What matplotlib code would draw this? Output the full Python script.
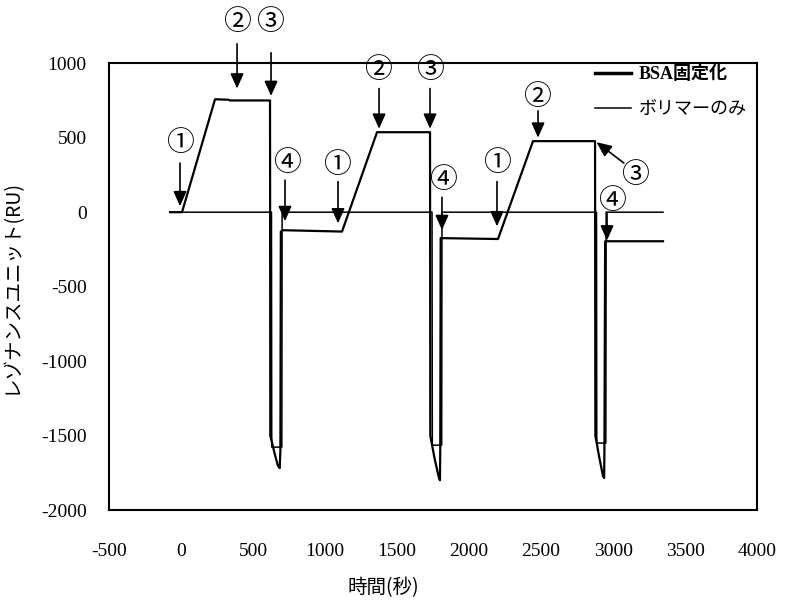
import matplotlib
matplotlib.use('Agg')
import matplotlib.pyplot as plt

# BSA固定化 の曲線 (時間[秒], RU)
bsa_time = [-76, 7, 236, 330, 340, 618,
            620, 650, 672, 685, 690, 693, 710, 1118, 1361, 1729,
            1731, 1760, 1790, 1798, 1800, 1803, 2201, 2444, 2875,
            2877, 2905, 2930, 2938, 2940, 2945, 3347]
bsa_ru = [0, 0, 758, 755, 750, 750,
          -1500, -1620, -1700, -1718, -1600, -130, -121, -130, 537, 537,
          -1500, -1650, -1780, -1799, -1600, -174, -180, 477, 477,
          -1500, -1650, -1770, -1785, -1600, -195, -195]

# ポリマーのみ の曲線
poly_time = [-76, 628, 630, 700, 702, 1743, 1745, 1810, 1812, 2885, 2887, 2950, 2952, 3347]
poly_ru = [0, 0, -1577, -1577, 0, 0, -1564, -1564, 0, 0, -1550, -1550, 0, 0]

x_ticks = [-500, 0, 500, 1000, 1500, 2000, 2500, 3000, 3500, 4000]
y_ticks = [1000, 500, 0, -500, -1000, -1500, -2000]

# 丸数字の注釈: (文字, 文字位置, 矢印の始点, 矢印の先)
marks = [
    ('①', (-7, 463), (-7, 330), (-7, 40)),
    ('②', (389, 1275), (389, 1130), (389, 830)),
    ('③', (618, 1275), (625, 1070), (625, 780)),
    ('④', (736, 329), (722, 215), (722, -60)),
    ('①', (1083, 316), (1090, 205), (1090, -75)),
    ('②', (1368, 953), (1375, 830), (1375, 560)),
    ('③', (1729, 953), (1729, 830), (1729, 560)),
    ('④', (1819, 216), (1812, 100), (1812, -120)),
    ('①', (2194, 329), (2194, 205), (2194, -95)),
    ('②', (2472, 772), (2479, 680), (2479, 500)),
    ('④', (2990, 75), (2958, 0), (2958, -190)),
]

plt.rcParams['font.family'] = ['Liberation Serif', 'Noto Sans CJK JP']
plt.rcParams['axes.unicode_minus'] = False

fig = plt.figure(figsize=(7.86, 6.08), dpi=100)
ax = fig.add_axes([0.1387, 0.161, 0.8245, 0.735])

ax.plot(bsa_time, bsa_ru, color='black', lw=1.6, label='BSA固定化')
ax.plot(poly_time, poly_ru, color='black', lw=1.1, label='ボリマーのみ')

ax.set_xlim(-500, 4000)
ax.set_ylim(-2000, 1000)
ax.set_xticks(x_ticks)
ax.set_yticks(y_ticks)
ax.tick_params(length=0, labelsize=14)
ax.tick_params(axis='x', pad=24)
ax.tick_params(axis='y', pad=16)
for s in ax.spines.values():
    s.set_linewidth(1.5)

jp = ['Noto Sans CJK JP', 'DejaVu Sans']
ax.set_ylabel('レゾナンスユニット(RU)', family=jp, fontsize=14)
ax.yaxis.set_label_coords(-0.135, 0.5)
ax.set_xlabel('時間(秒)', family=jp, fontsize=14)
ax.xaxis.set_label_coords(0.423, -0.15)

arrow = dict(arrowstyle='-|>,head_length=0.9,head_width=0.4', color='black', lw=1.2,
             shrinkA=0, shrinkB=0)
for txt, tpos, a0, a1 in marks:
    ax.text(tpos[0], tpos[1], txt, family=jp, fontsize=20, ha='center', va='center', clip_on=False)
    ax.annotate('', xy=a1, xytext=a0, arrowprops=arrow, annotation_clip=False)

# 3回目の③は斜めの矢印
ax.text(3153, 248, '③', family=jp, fontsize=20, ha='center', va='center')
ax.annotate('', xy=(2885, 470), xytext=(3075, 330), arrowprops=arrow)

leg = ax.legend(loc='upper left', bbox_to_anchor=(0.725, 1.03), frameon=False,
                handlelength=2.0, handletextpad=0.4, labelspacing=1.0,
                prop={'family': ['Liberation Serif', 'Noto Sans CJK JP'], 'size': 13})
leg.get_texts()[0].set_fontweight('bold')
leg.get_lines()[0].set_linewidth(2.5)

fig.savefig('out.png', dpi=100)
